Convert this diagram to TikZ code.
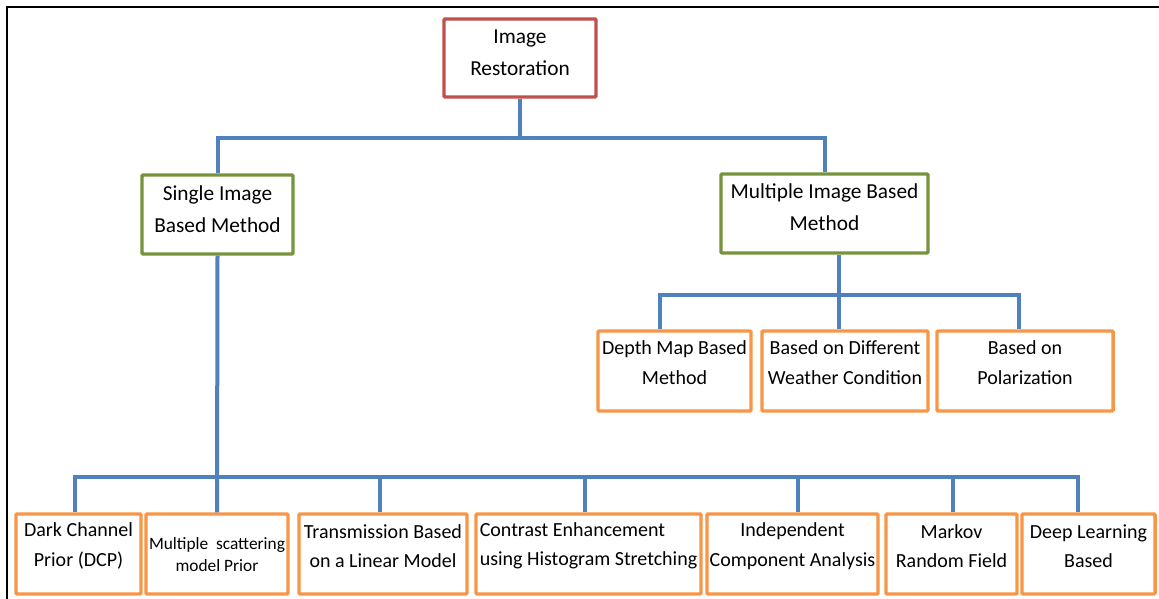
\documentclass[tikz,border=0pt]{standalone}
\usepackage{fontspec}
\setmainfont{Carlito}

\definecolor{rootred}{RGB}{192,80,77}
\definecolor{methgreen}{RGB}{119,147,60}
\definecolor{leaforange}{RGB}{247,150,70}
\definecolor{wireblue}{RGB}{79,129,189}

\tikzset{every picture/.style={line width=0.75pt}}
\tikzset{
  box/.style={draw, line width=2.6pt, rounded corners=0.8pt, fill=white, inner sep=0pt},
  sz/.style 2 args={minimum width=#1*0.75pt, minimum height=#2*0.75pt},
  rootbox/.style={box, draw=rootred},
  methbox/.style={box, draw=methgreen},
  leafbox/.style={box, draw=leaforange},
  wire/.style={draw=wireblue, line width=3pt},
  bigtxt/.style={inner sep=0.75pt, align=center, font=\fontsize{16}{24}\selectfont},
  txt/.style={inner sep=0.75pt, align=center, font=\fontsize{15}{22}\selectfont},
  smalltxt/.style={inner sep=0.75pt, align=center, font=\fontsize{13}{17}\selectfont},
}

\begin{document}
\begin{tikzpicture}[x=0.75pt,y=0.75pt,yscale=-1,xscale=1]
\useasboundingbox (0,0) rectangle (1159,599);

% Frame
\draw[line width=1.5pt] (7,599) |- (1159,7);

% Boxes
\node[rootbox, sz={152}{78}] (root) at (520,58) {};
\node[methbox, sz={151}{79}] (single) at (217.5,214.5) {};
\node[methbox, sz={207}{79}] (multi) at (824.5,213.5) {};

\node[leafbox, sz={153}{80}] (depth) at (674.5,371) {};
\node[leafbox, sz={166}{80}] (weather) at (845,371) {};
\node[leafbox, sz={176}{80}] (polar) at (1025,371) {};

\node[leafbox, sz={125}{80}] (dcp) at (78.5,554) {};
\node[leafbox, sz={142}{80}] (mst) at (217,554) {};
\node[leafbox, sz={168}{80}] (trans) at (383,554) {};
\node[leafbox, sz={225}{80}] (contrast) at (588.5,554) {};
\node[leafbox, sz={171}{80}] (ica) at (792.5,554) {};
\node[leafbox, sz={131}{80}] (mrf) at (951.5,554) {};
\node[leafbox, sz={133}{80}] (deep) at (1088.5,554) {};

% Connectors
\draw[wire] (root.south) -- (root.south |- 0,138);
\draw[wire] (single.north) -- (single.south |- 0,138) -- (multi.north |- 0,138) -- (multi.north);

\draw[wire] (multi.south -| 839,0) -- (weather.north -| 839,0);
\draw[wire] (depth.north -| 660,0) -- (660,295) -- (1019,295) -- (polar.north -| 1019,0);

\draw[wire] (single.south) -- (mst.north);
\draw[wire] (dcp.north -| 75,0) -- (75,477) -- (1078,477) -- (deep.north -| 1078,0);
\foreach \n/\x in {trans/380, contrast/585, ica/798, mrf/953}
  \draw[wire] (\n.north -| \x,0) -- (\x,477);

% Text Node
\draw (520,53) node [bigtxt] (root-t) {Image\\Restoration};
\draw (217.5,209.5) node [bigtxt] (single-t) {Single Image\\Based Method};
\draw (824.5,207) node [bigtxt] (multi-t) {Multiple Image Based\\Method};

% Text Node
\draw (674.5,362.5) node [txt] (depth-t) {Depth Map Based\\Method};
\draw (845,362.5) node [txt] (weather-t) {Based on Different\\Weather Condition};
\draw (1025,362.5) node [txt] (polar-t) {Based on\\Polarization};

% Text Node
\draw (78.5,546) node [txt] (dcp-t) {Dark Channel\\Prior (DCP)};
\draw (217,554.5) node [smalltxt] (mst-t) {Multiple\ \ scattering\\model Prior};
\draw (383,546) node [txt] (trans-t) {Transmission Based\\on a Linear Model};
\draw (588.5,546) node [txt, align=left] (contrast-t) {Contrast Enhancement\\using Histogram Stretching};
\draw (792.5,546) node [txt] (ica-t) {Independent\\Component Analysis};
\draw (951.5,546) node [txt] (mrf-t) {Markov\\Random Field};
\draw (1088.5,546) node [txt] (deep-t) {Deep Learning\\Based};
\end{tikzpicture}
\end{document}
